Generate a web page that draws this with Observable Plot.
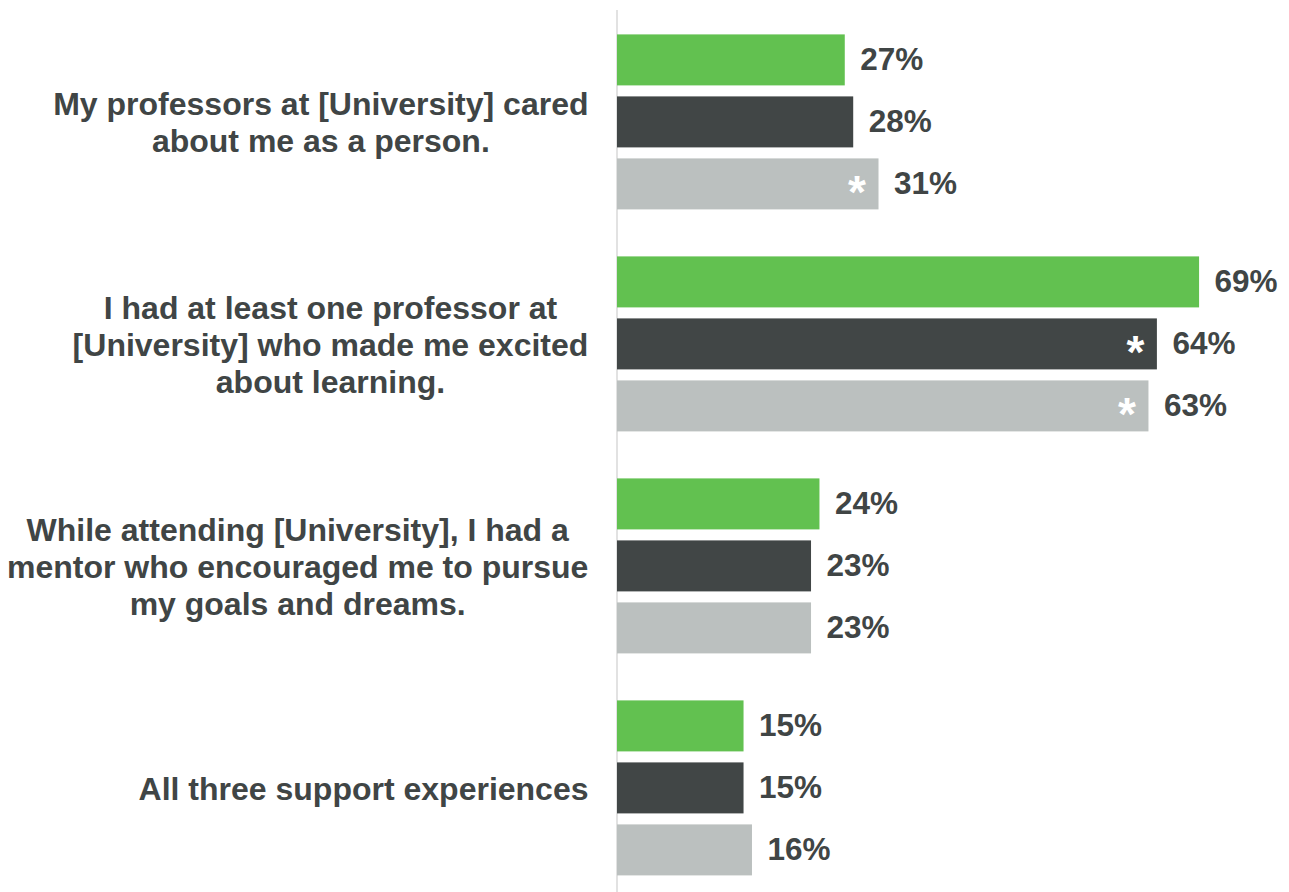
<!DOCTYPE html>
<html>
<head>
<meta charset="utf-8">
<script src="https://cdn.jsdelivr.net/npm/d3@7"></script>
<script src="https://cdn.jsdelivr.net/npm/@observablehq/plot@0.6"></script>
<style>
  html, body { margin: 0; padding: 0; background: #ffffff; }
  #chart svg { display: block; }
</style>
</head>
<body>
<div id="chart"></div>
<script>
// ---- data ----
const questions = [
  "My professors at [University] cared\nabout me as a person.",
  "I had at least one professor at\n[University] who made me excited\nabout learning.",
  "While attending [University], I had a\nmentor who encouraged me to pursue\nmy goals and dreams.",
  "All three support experiences"
];
const series = ["Series 1", "Series 2", "Series 3"];
const series1Values = [27, 69, 24, 15];
const series2Values = [28, 64, 23, 15];
const series3Values = [31, 63, 23, 16];
const series1Sig = [false, false, false, false];
const series2Sig = [false, true, false, false];
const series3Sig = [true, true, false, false];
const seriesColors = ["#62c150", "#414646", "#bbc0bf"];

// ---- table built from arrays ----
const valueLists = [series1Values, series2Values, series3Values];
const sigLists = [series1Sig, series2Sig, series3Sig];
const rows = [];
questions.forEach((q, i) => {
  series.forEach((s, j) => {
    rows.push({q, s, v: valueLists[j][i], sig: sigLists[j][i]});
  });
});
const qRows = questions.map(q => ({q}));

const textColor = "#404545";
const font = "'Liberation Sans', Arial, Helvetica, sans-serif";

const chart = Plot.plot({
  width: 1289,
  height: 892,
  marginLeft: 617,
  marginRight: 14,
  marginTop: 21.6,
  marginBottom: 5.6,
  style: {fontFamily: font, background: "#ffffff", overflow: "visible"},
  x: {domain: [0, 78], axis: null},
  y: {domain: series, padding: 0.18, axis: null},
  fy: {domain: questions, paddingInner: 0.105, paddingOuter: 0, axis: null},
  color: {domain: series, range: seriesColors},
  marks: [
    Plot.barX(rows, {x: "v", y: "s", fy: "q", fill: "s"}),
    Plot.text(rows, {
      x: "v", y: "s", fy: "q",
      text: d => d.v + "%",
      textAnchor: "start", dx: 15,
      fontSize: 31.5, fontWeight: "bold", fill: textColor
    }),
    Plot.text(rows.filter(d => d.sig), {
      x: "v", y: "s", fy: "q",
      text: () => "*",
      textAnchor: "middle", dx: -22, dy: 9,
      fontSize: 46, fontWeight: "bold", fill: "#ffffff"
    }),
    Plot.text(qRows, {
      fy: "q",
      text: "q",
      frameAnchor: "left",
      textAnchor: "end",
      dx: -29,
      lineHeight: 1.15,
      fontSize: 32, fontWeight: "bold", fill: textColor
    })
  ]
});

document.getElementById("chart").append(chart);

// centre each question's lines on its block, keeping the block right-aligned
const flatQuestions = new Set(questions.map(q => q.replace(/\n/g, "")));
d3.select(chart).selectAll("text").each(function() {
  if (!flatQuestions.has(this.textContent)) return;
  const w = this.getBBox().width;
  const t = this.getAttribute("transform") || "";
  this.setAttribute("text-anchor", "middle");
  d3.select(this).selectAll("tspan").attr("text-anchor", "middle");
  this.setAttribute("transform", t + ` translate(${-w / 2},0)`);
});

// vertical baseline at x = 0 spanning the full chart height
const x0 = chart.scale("x").apply(0);
d3.select(chart).insert("line", "g")
  .attr("x1", x0).attr("x2", x0)
  .attr("y1", 10).attr("y2", 892)
  .attr("stroke", "#d9d9d9")
  .attr("stroke-width", 1.5);
</script>
</body>
</html>
